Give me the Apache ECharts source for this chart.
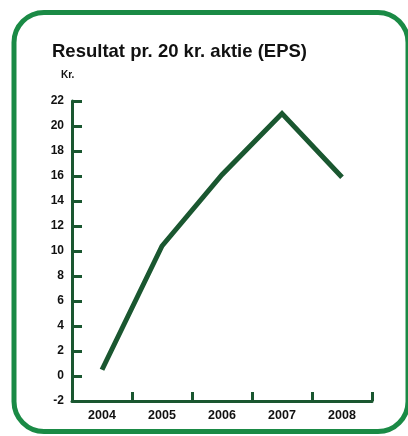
<!DOCTYPE html>
<html lang="da">

<head>
    <meta charset="UTF-8">
    <title>Resultat pr. 20 kr. aktie (EPS)</title>
    <style>
        html, body { margin: 0; padding: 0; background: #fff; }
    </style>
</head>

<body>
    <div id="main" style="width:408px;height:436px;"></div>
    <script src="https://cdn.jsdelivr.net/npm/echarts@6/dist/echarts.min.js"></script>
    <script>
        var years = ['2004', '2005', '2006', '2007', '2008'];
        var eps = [0.5, 10.4, 16.1, 21.0, 15.9];
        var yTicks = { min: -2, max: 22, step: 2 };

        var darkGreen = '#1a5730';
        var frameGreen = '#1a8a45';
        var font = '"Liberation Sans", Arial, Helvetica, sans-serif';

        var myChart = echarts.init(document.getElementById('main'));

        var option = {
            animation: false,
            title: [{
                text: 'Resultat pr. 20 kr. aktie (EPS)',
                left: 47,
                top: 37,
                textStyle: { fontFamily: font, fontSize: 18.5, fontWeight: 'bold', color: '#111' }
            }, {
                text: 'Kr.',
                left: 56,
                top: 65,
                textStyle: { fontFamily: font, fontSize: 10, fontWeight: 'bold', color: '#111' }
            }],
            graphic: [{
                type: 'rect',
                shape: { x: 14, y: 12.5, width: 394, height: 419, r: 30 },
                style: { fill: 'none', stroke: frameGreen, lineWidth: 5 },
                silent: true
            }],
            grid: { left: 72, right: 36, top: 101, bottom: 35 },
            xAxis: {
                type: 'category',
                data: years,
                boundaryGap: true,
                axisLine: { onZero: false, lineStyle: { color: darkGreen, width: 3 } },
                axisTick: { show: true, inside: true, length: 9, interval: 0, lineStyle: { color: darkGreen, width: 3 } },
                axisLabel: { fontFamily: font, fontSize: 12.5, fontWeight: 'bold', color: '#111', margin: 8 },
                splitLine: { show: false }
            },
            yAxis: {
                type: 'value',
                min: yTicks.min,
                max: yTicks.max,
                interval: yTicks.step,
                axisLine: { show: true, lineStyle: { color: darkGreen, width: 3 } },
                axisTick: { show: true, inside: true, length: 10, lineStyle: { color: darkGreen, width: 3 } },
                axisLabel: { fontFamily: font, fontSize: 12, fontWeight: 'bold', color: '#111', margin: 8 },
                splitLine: { show: false }
            },
            series: [{
                type: 'line',
                data: eps,
                symbol: 'none',
                lineStyle: { color: darkGreen, width: 5, cap: 'butt', join: 'miter' }
            }]
        };

        myChart.setOption(option);
    </script>
</body>

</html>
